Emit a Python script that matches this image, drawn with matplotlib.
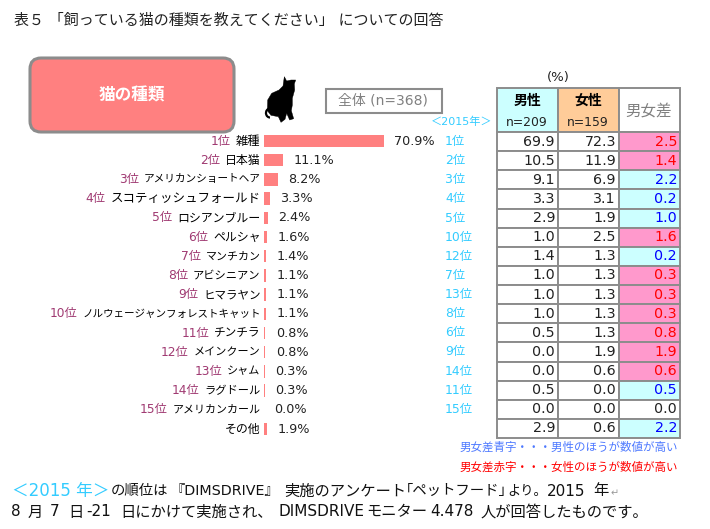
import matplotlib
matplotlib.use('Agg')
import matplotlib.pyplot as plt
from matplotlib.patches import Rectangle, FancyBboxPatch, Polygon, Arc

# DejaVu first: its wide digits are closer to the original, kana and kanji fall through
plt.rcParams['font.family'] = ['DejaVu Sans', 'Noto Sans CJK JP']

# data
ranks = ['1位', '2位', '3位', '4位', '5位', '6位', '7位', '8位', '9位', '10位',
         '11位', '12位', '13位', '14位', '15位', '']
breeds = ['雑種', '日本猫', 'アメリカンショートヘア', 'スコティッシュフォールド', 'ロシアンブルー',
          'ペルシャ', 'マンチカン', 'アビシニアン', 'ヒマラヤン', 'ノルウェージャンフォレストキャット',
          'チンチラ', 'メインクーン', 'シャム', 'ラグドール', 'アメリカンカール', 'その他']
total = [70.9, 11.1, 8.2, 3.3, 2.4, 1.6, 1.4, 1.1, 1.1, 1.1, 0.8, 0.8, 0.3, 0.3, 0.0, 1.9]
rank_2015 = ['1位', '2位', '3位', '4位', '5位', '10位', '12位', '7位', '13位', '8位',
             '6位', '9位', '14位', '11位', '15位', '']
male = [69.9, 10.5, 9.1, 3.3, 2.9, 1.0, 1.4, 1.0, 1.0, 1.0, 0.5, 0.0, 0.0, 0.5, 0.0, 2.9]
female = [72.3, 11.9, 6.9, 3.1, 1.9, 2.5, 1.3, 1.3, 1.3, 1.3, 1.3, 1.9, 0.6, 0.0, 0.0, 0.6]
diff = [2.5, 1.4, 2.2, 0.2, 1.0, 1.6, 0.2, 0.3, 0.3, 0.3, 0.8, 1.9, 0.6, 0.5, 0.0, 2.2]

# the original's kana are proportional, so each name gets its own size
name_sizes = [8.8, 8.6, 7.7, 9.0, 8.6, 8.6, 7.9, 8.1, 8.3, 7.6, 8.4, 8.0, 8.0, 8.1, 7.9, 8.6]

W, H = 710, 529
GREY = '#8c8c8c'
SALMON = '#ff8080'
CYAN = '#ccffff'
PINK = '#ff99cc'
SKY = '#33ccff'

fig = plt.figure(figsize=(W / 100, H / 100), dpi=100)

# page layer in pixel coordinates, for the boxes and the notes
page = fig.add_axes([0, 0, 1, 1])
page.set_xlim(0, W)
page.set_ylim(H, 0)
page.axis('off')

page.text(14, 20, '表５ 「飼っている猫の種類を教えてください」 についての回答', fontsize=10.8,
          va='center', color='#222222')

page.add_patch(FancyBboxPatch((38, 66), 188, 58, boxstyle='round,pad=8,rounding_size=11',
                              fc=SALMON, ec=GREY, lw=2.2))
page.text(132, 95, '猫の種類', color='white', fontsize=12, fontweight='bold', ha='center', va='center')

page.add_patch(Rectangle((325.5, 88.5), 116, 24, fc='white', ec=GREY, lw=1.5))
page.text(383, 100.5, '全体 (n=368)', color='#808080', fontsize=10, ha='center', va='center')

# cat silhouette
cat = [(88, 20), (95, 33), (108, 30), (122, 30), (118, 42), (119, 60), (112, 85), (112, 105),
       (109, 122), (116, 146), (104, 150), (95, 130), (90, 148), (78, 157), (70, 140),
       (48, 136), (37, 122), (38, 90), (50, 70), (72, 60), (84, 48)]
page.add_patch(Polygon([(255 + x / 3, 70 + y / 3) for x, y in cat], fc='black', ec='black', lw=0.3))
page.add_patch(Arc((270, 113), 8, 9, theta1=90, theta2=360, color='black', lw=1.6))

# bars
bar_left, bar_width = 264, 120
row_top, row_h = 141 - 9.6, 19.2
bars = fig.add_axes([bar_left / W, 1 - (row_top + 16 * row_h) / H, bar_width / W, 16 * row_h / H])
bars.set_xlim(0, total[0])
bars.set_ylim(15.5, -0.5)
bars.axis('off')
bars.barh(range(len(total)), total, height=0.65, color=SALMON)

for i, v in enumerate(total):
    bars.annotate(f'{v:.1f}%', (v, i), xytext=(7.5, 0), textcoords='offset points', fontsize=9.2,
                  va='center', ha='left', color='#222222', annotation_clip=False)
    name = bars.annotate(breeds[i], (0, i), xytext=(-2.5, 0), textcoords='offset points',
                         fontsize=name_sizes[i], va='center', ha='right', color='black',
                         annotation_clip=False)
    if ranks[i]:
        bars.annotate(ranks[i], xy=(0, 0.5), xycoords=name, xytext=(-3.5, 0), textcoords='offset points',
                      fontsize=8.8, va='center', ha='right', color='#a03a72', annotation_clip=False)

# table
col_x = [497, 558, 619, 680]
head_top, head_bot = 88, 132
cell_h = (438 - head_bot) / 16
line = dict(ec=GREY, lw=1.4)

page.text(558, 78, '(%)', fontsize=9.5, ha='center', va='center', color='#222222')
page.text(431, 122, '＜2015年＞', fontsize=8, color=SKY, va='center', ha='left')

page.add_patch(Rectangle((col_x[0], head_top), 61, head_bot - head_top, fc=CYAN, **line))
page.add_patch(Rectangle((col_x[1], head_top), 61, head_bot - head_top, fc='#ffcc99', **line))
page.add_patch(Rectangle((col_x[2], head_top), 61, head_bot - head_top, fc='white', **line))
page.text(527, 101, '男性', fontsize=10, fontweight='bold', ha='center', va='center')
page.text(588, 101, '女性', fontsize=10, fontweight='bold', ha='center', va='center')
page.text(527, 122, 'n=209', fontsize=8.9, ha='center', va='center', color='#222222')
page.text(588, 122, 'n=159', fontsize=8.9, ha='center', va='center', color='#222222')
page.text(649, 111, '男女差', fontsize=11.2, ha='center', va='center', color='#808080')

for i in range(len(male)):
    top = head_bot + i * cell_h
    mid = top + cell_h / 2
    if female[i] > male[i]:
        fill, ink = PINK, '#ff0000'
    elif male[i] > female[i]:
        fill, ink = CYAN, '#0000ff'
    else:
        fill, ink = 'white', '#222222'
    page.add_patch(Rectangle((col_x[0], top), 61, cell_h, fc='white', **line))
    page.add_patch(Rectangle((col_x[1], top), 61, cell_h, fc='white', **line))
    page.add_patch(Rectangle((col_x[2], top), 61, cell_h, fc=fill, **line))
    page.text(col_x[1] - 3, mid, f'{male[i]:.1f}', fontsize=10.3, ha='right', va='center', color='#222222')
    page.text(col_x[2] - 3, mid, f'{female[i]:.1f}', fontsize=10.3, ha='right', va='center', color='#222222')
    page.text(col_x[3] - 3, mid, f'{diff[i]:.1f}', fontsize=10.3, ha='right', va='center', color=ink)
    if rank_2015[i]:
        page.text(445, mid, rank_2015[i], fontsize=8.9, ha='left', va='center', color=SKY)

page.text(460, 447, '男女差青字・・・男性のほうが数値が高い', fontsize=8.3, va='center', color='#4d79ff')
page.text(460, 467, '男女差赤字・・・女性のほうが数値が高い', fontsize=8.3, va='center', color='#ff0000')

# footnote, placed in pieces because the original's brackets and spaces are half width
page.text(12, 491, '＜2015 年＞', fontsize=12, va='center', color=SKY)
line1 = [('の順位は', 111, 10.4), ('『DIMSDRIVE』', 170, 10.3), ('実施のアンケート', 284, 11),
         ('｢ペットフード｣', 406, 10.4), ('より。', 507, 9.5), ('2015', 547, 11), ('年', 593, 11)]
line2 = [('8', 11), ('月', 28), ('7', 50), ('日', 68), ('-21', 86), ('日にかけて実施され、', 120),
         ('DIMSDRIVE', 278), ('モニター', 366), ('4.478', 430), ('人が回答したものです。', 481)]
for piece, x, size in line1:
    page.text(x, 491, piece, fontsize=size, va='center', color='#111111')
for piece, x in line2:
    page.text(x, 512, piece, fontsize=11, va='center', color='#111111')
page.text(611, 493, '↵', fontsize=7, va='center', color='#999999')

fig.savefig('out.png', dpi=100)
